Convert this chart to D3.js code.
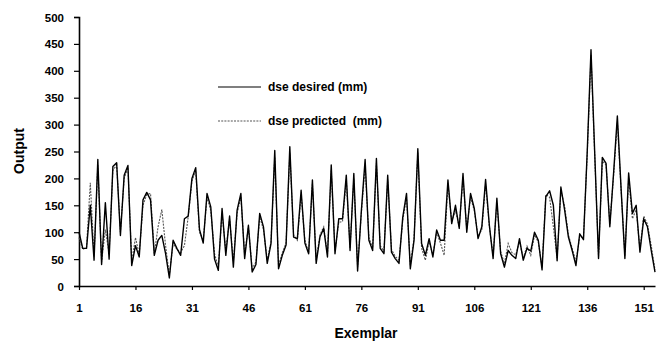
<!DOCTYPE html>
<html>
<head>
<meta charset="utf-8">
<script src="https://cdn.jsdelivr.net/npm/d3@7/dist/d3.min.js"></script>
<style>
  html, body { margin: 0; padding: 0; background: #fff; }
  svg { display: block; }
  text { font-family: "Liberation Sans", Arial, sans-serif; font-weight: bold; fill: #000; }
</style>
</head>
<body>
<svg id="chart" width="668" height="345"></svg>
<script>
// Exemplar numbers 1..154
const exemplars = d3.range(1, 155);

// dse desired (mm)
const desired = [
  100, 70, 70, 150, 48, 235, 40, 155, 50, 222,
  229, 94, 206, 224, 38, 75, 54, 160, 174, 160,
  57, 85, 94, 60, 15, 85, 70, 57, 125, 130,
  200, 220, 105, 80, 172, 147, 50, 29, 144, 57,
  130, 35, 141, 172, 51, 113, 26, 40, 135, 110,
  42, 79, 252, 32, 57, 76, 259, 91, 88, 178,
  80, 60, 197, 42, 91, 107, 54, 225, 60, 125,
  125, 206, 66, 209, 28, 140, 235, 85, 66, 237,
  70, 60, 206, 63, 51, 42, 128, 172, 32, 85,
  255, 79, 57, 88, 54, 104, 85, 85, 197, 116,
  150, 107, 209, 100, 172, 144, 88, 110, 198, 113,
  51, 163, 60, 35, 66, 57, 51, 88, 48, 70,
  65, 100, 85, 30, 166, 177, 150, 47, 184, 141,
  91, 66, 38, 97, 86, 250, 439, 245, 51, 239,
  228, 110, 210, 316, 180, 51, 210, 135, 150, 63,
  125, 110, 66, 26
];

// dse predicted (mm)
const predicted = [
  90, 68, 72, 192, 55, 225, 45, 105, 60, 215,
  225, 100, 200, 220, 45, 90, 58, 150, 170, 172,
  60, 110, 142, 75, 20, 80, 68, 62, 75, 128,
  195, 215, 100, 85, 165, 140, 60, 35, 135, 65,
  125, 45, 135, 165, 58, 110, 32, 45, 128, 105,
  48, 82, 240, 38, 62, 80, 248, 95, 85, 170,
  85, 62, 190, 48, 95, 110, 58, 215, 65, 118,
  120, 198, 70, 200, 35, 135, 225, 90, 70, 228,
  75, 65, 198, 68, 55, 48, 122, 165, 38, 90,
  248, 70, 48, 82, 58, 100, 80, 57, 190, 120,
  140, 110, 200, 105, 165, 140, 92, 105, 190, 110,
  56, 155, 64, 42, 79, 62, 58, 82, 52, 74,
  57, 95, 82, 35, 170, 165, 110, 52, 178, 148,
  95, 70, 45, 92, 90, 245, 430, 240, 55, 232,
  225, 115, 205, 305, 178, 56, 200, 125, 142, 68,
  130, 115, 75, 30
];

const yTicks = [0, 50, 100, 150, 200, 250, 300, 350, 400, 450, 500];
const xTicks = [1, 16, 31, 46, 61, 76, 91, 106, 121, 136, 151];

const svg = d3.select("#chart");

const x = d3.scalePoint().domain(exemplars).range([79, 655]);
const y = d3.scaleLinear().domain([0, 500]).range([286, 17]);

// Y axis
const yAxis = svg.append("g")
  .attr("transform", "translate(79,0)")
  .call(d3.axisLeft(y).tickValues(yTicks).tickSize(5).tickPadding(10));
yAxis.select(".domain").attr("stroke", "#000").attr("stroke-width", 1.6);
yAxis.selectAll(".tick line").attr("stroke", "#000").attr("stroke-width", 1.2);
yAxis.selectAll(".tick text")
  .style("font-size", "11.5px").attr("dy", "0.35em");

// X axis
const xAxis = svg.append("g")
  .attr("transform", "translate(0,286)")
  .call(d3.axisBottom(x).tickValues(xTicks).tickSize(4).tickSizeOuter(0).tickPadding(14));
xAxis.select(".domain").attr("stroke", "#000").attr("stroke-width", 1.6);
xAxis.selectAll(".tick line").attr("stroke", "#000").attr("stroke-width", 1.2);
xAxis.selectAll(".tick text").style("font-size", "11.5px");

// Series lines
const line = vals => d3.line()
  .x((d, i) => x(exemplars[i]))
  .y(d => y(d))(vals);

svg.append("path")
  .attr("d", line(predicted))
  .attr("fill", "none")
  .attr("stroke", "#555")
  .attr("stroke-width", 1.1)
  .attr("stroke-dasharray", "2,1.2");

svg.append("path")
  .attr("d", line(desired))
  .attr("fill", "none")
  .attr("stroke", "#000")
  .attr("stroke-width", 1.4)
  .attr("stroke-linejoin", "round");

// Legend
const legend = svg.append("g");
legend.append("line")
  .attr("x1", 218).attr("x2", 261).attr("y1", 87).attr("y2", 87)
  .attr("stroke", "#000").attr("stroke-width", 1.1);
legend.append("text").attr("x", 268).attr("y", 91)
  .style("font-size", "12px").text("dse desired (mm)");
legend.append("line")
  .attr("x1", 218).attr("x2", 261).attr("y1", 121).attr("y2", 121)
  .attr("stroke", "#555").attr("stroke-width", 1.1).attr("stroke-dasharray", "2,1.2");
legend.append("text").attr("x", 268).attr("y", 125)
  .style("font-size", "12px").attr("xml:space", "preserve").text("dse predicted  (mm)");

// Axis titles
svg.append("text")
  .attr("transform", "translate(24,151) rotate(-90)")
  .attr("text-anchor", "middle")
  .style("font-size", "14px").text("Output");
svg.append("text")
  .attr("x", 366).attr("y", 338)
  .attr("text-anchor", "middle")
  .style("font-size", "14px").text("Exemplar");
</script>
</body>
</html>
